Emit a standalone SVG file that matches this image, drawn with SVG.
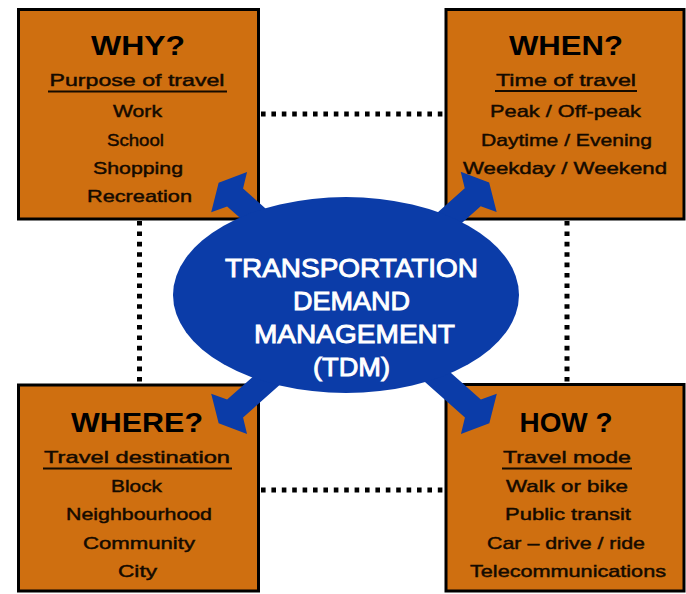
<svg xmlns="http://www.w3.org/2000/svg" width="686" height="594" viewBox="0 0 686 594">
  <style>
    .box { fill: #cf6f10; stroke: #000; stroke-width: 3; }
    .title { font-family: "Liberation Sans", Arial, sans-serif; font-weight: bold; font-size: 28px; fill: #000; text-anchor: middle; }
    .sub, .item { font-family: "Liberation Sans", Arial, sans-serif; font-size: 17px; fill: #140a00; stroke: #140a00; stroke-width: 0.45; text-anchor: middle; }
    .ul { stroke: #140a00; stroke-width: 2.2; }
    .dots { fill: none; stroke: #000; stroke-width: 5; stroke-dasharray: 4.6 5.8; }
    .arrow { fill: #0b3ca8; }
    .hub { fill: #0b3ca8; }
    .hubtext { font-family: "Liberation Sans", Arial, sans-serif; font-size: 26px; fill: #fff; stroke: #fff; stroke-width: 0.9; text-anchor: middle; }
  </style>
  <defs>
    <!-- one thick block arrow pointing along +x, starting near the hub centre -->
    <path id="blockArrow" d="M60,-12 L159,-12 L167,-27 L181,0 L167,27 L159,12 L60,12 Z"/>
  </defs>

  <rect width="686" height="594" fill="#fff"/>

  <!-- dotted links between the four boxes -->
  <g id="connectors">
    <path class="dots" d="M261,114 H444"/>
    <path class="dots" d="M261,490 H444"/>
    <path class="dots" d="M139.5,221 V383"/>
    <path class="dots" d="M567,221 V383"/>
  </g>

  <g id="why">
    <rect class="box" x="18.5" y="9.5" width="240" height="209.5"/>
    <text class="title" x="138" y="55" textLength="94" lengthAdjust="spacingAndGlyphs">WHY?</text>
    <text class="sub" x="137" y="86" textLength="175" lengthAdjust="spacingAndGlyphs">Purpose of travel</text>
    <line class="ul" x1="48" y1="91.5" x2="227" y2="91.5"/>
    <text class="item" x="137.5" y="117" textLength="49" lengthAdjust="spacingAndGlyphs">Work</text>
    <text class="item" x="135.5" y="146" textLength="57" lengthAdjust="spacingAndGlyphs">School</text>
    <text class="item" x="138" y="174" textLength="90" lengthAdjust="spacingAndGlyphs">Shopping</text>
    <text class="item" x="139.5" y="202" textLength="105" lengthAdjust="spacingAndGlyphs">Recreation</text>
  </g>

  <g id="when">
    <rect class="box" x="446" y="9.5" width="238" height="209.5"/>
    <text class="title" x="566" y="55" textLength="114" lengthAdjust="spacingAndGlyphs">WHEN?</text>
    <text class="sub" x="566" y="86" textLength="140" lengthAdjust="spacingAndGlyphs">Time of travel</text>
    <line class="ul" x1="495" y1="91" x2="637" y2="91"/>
    <text class="item" x="565.5" y="117" textLength="151" lengthAdjust="spacingAndGlyphs">Peak / Off-peak</text>
    <text class="item" x="566.5" y="146" textLength="171" lengthAdjust="spacingAndGlyphs">Daytime / Evening</text>
    <text class="item" x="565" y="174" textLength="204" lengthAdjust="spacingAndGlyphs">Weekday / Weekend</text>
  </g>

  <g id="where">
    <rect class="box" x="18.5" y="385" width="240" height="206"/>
    <text class="title" x="137" y="432" textLength="132" lengthAdjust="spacingAndGlyphs">WHERE?</text>
    <text class="sub" x="137" y="463" textLength="186" lengthAdjust="spacingAndGlyphs">Travel destination</text>
    <line class="ul" x1="43" y1="468.5" x2="232" y2="468.5"/>
    <text class="item" x="136.5" y="492" textLength="51" lengthAdjust="spacingAndGlyphs">Block</text>
    <text class="item" x="139" y="520" textLength="146" lengthAdjust="spacingAndGlyphs">Neighbourhood</text>
    <text class="item" x="139" y="549" textLength="112" lengthAdjust="spacingAndGlyphs">Community</text>
    <text class="item" x="137.5" y="577" textLength="39" lengthAdjust="spacingAndGlyphs">City</text>
  </g>

  <g id="how">
    <rect class="box" x="446" y="384.5" width="238" height="206.5"/>
    <text class="title" x="566" y="432" textLength="93" lengthAdjust="spacingAndGlyphs">HOW ?</text>
    <text class="sub" x="567" y="463" textLength="128" lengthAdjust="spacingAndGlyphs">Travel mode</text>
    <line class="ul" x1="502" y1="468.5" x2="632" y2="468.5"/>
    <text class="item" x="567" y="492" textLength="122" lengthAdjust="spacingAndGlyphs">Walk or bike</text>
    <text class="item" x="568" y="520" textLength="126" lengthAdjust="spacingAndGlyphs">Public transit</text>
    <text class="item" x="566" y="549" textLength="158" lengthAdjust="spacingAndGlyphs">Car – drive / ride</text>
    <text class="item" x="568" y="577" textLength="196" lengthAdjust="spacingAndGlyphs">Telecommunications</text>
  </g>

  <!-- four block arrows radiating from the hub into the box corners -->
  <g id="hub-arrows">
    <use class="arrow" href="#blockArrow" transform="translate(354,303) rotate(221.6)"/>
    <use class="arrow" href="#blockArrow" transform="translate(354,303) rotate(-41.7)"/>
    <use class="arrow" href="#blockArrow" transform="translate(354,303) rotate(138.4)"/>
    <use class="arrow" href="#blockArrow" transform="translate(354,303) rotate(41.6)"/>
  </g>

  <g id="tdm">
    <ellipse class="hub" cx="346" cy="295" rx="173" ry="98"/>
    <text class="hubtext" x="351.5" y="277" textLength="253" lengthAdjust="spacingAndGlyphs">TRANSPORTATION</text>
    <text class="hubtext" x="351.5" y="310" textLength="117" lengthAdjust="spacingAndGlyphs">DEMAND</text>
    <text class="hubtext" x="354.5" y="343" textLength="201" lengthAdjust="spacingAndGlyphs">MANAGEMENT</text>
    <text class="hubtext" x="351.5" y="376" textLength="77" lengthAdjust="spacingAndGlyphs">(TDM)</text>
  </g>
</svg>
